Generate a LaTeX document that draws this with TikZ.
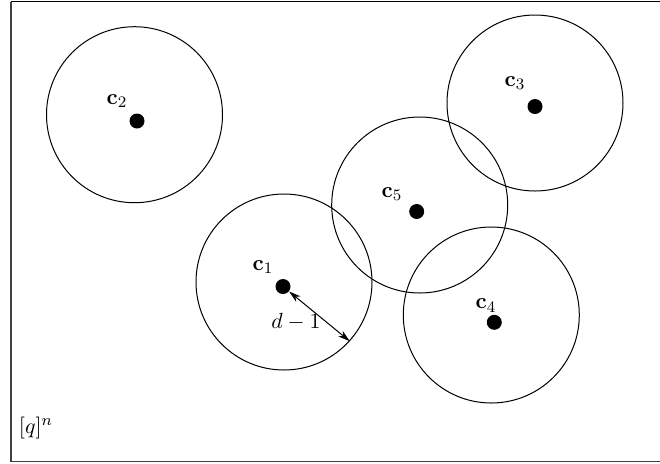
\documentclass[tikz,border=0pt]{standalone}
\usetikzlibrary{arrows.meta}
\begin{document}
\begin{tikzpicture}[x=0.5pt,y=-0.5pt,
  ball/.style={circle,draw,line width=0.5pt,minimum size=88pt,inner sep=0pt},
  dotc/.style={circle,fill=black,minimum size=7.5pt,inner sep=0pt},
  lab/.style={inner sep=0pt,font=\fontsize{11}{13}\selectfont},
  dimarrow/.style={{Stealth[length=6pt,width=3.5pt]}-{Stealth[length=6pt,width=3.5pt]},line width=0.5pt}]
\useasboundingbox (0,0) rectangle (660,463);
% frame
\draw[line width=0.6pt] (11,1.5) -- (670,1.5);
\draw[line width=0.8pt,black!75] (11,1.5) -- (11,461.5) -- (670,461.5);
% balls
\node[ball] (k2) at (134.5,114.7) {};
\node[ball] (k3) at (535,103) {};
\node[ball] (k5) at (419.7,205) {};
\node[ball] (k1) at (284,282) {};
\node[ball] (k4) at (491.3,315) {};
% centres
\node[dotc] (d2) at (137,121) {};
\node[dotc] (d3) at (535,106.5) {};
\node[dotc] (d5) at (416.7,211.5) {};
\node[dotc] (d1) at (283,286.5) {};
\node[dotc] (d4) at (494.3,322.3) {};
% labels
\node[lab] (l2) at (117,101) {$\mathbf{c}_2$};
\node[lab] (l3) at (515,83) {$\mathbf{c}_3$};
\node[lab] (l5) at (392,194) {$\mathbf{c}_5$};
\node[lab] (l1) at (263,267) {$\mathbf{c}_1$};
\node[lab] (l4) at (486,305.5) {$\mathbf{c}_4$};
% radius
\coordinate (e1) at (k1.-42);
\draw[dimarrow] (d1) -- (e1);
\node[lab] (dl) at (296,322) {$d-1$};
\node[lab] (qn) at (36,428) {$[q]^n$};
\end{tikzpicture}
\end{document}
